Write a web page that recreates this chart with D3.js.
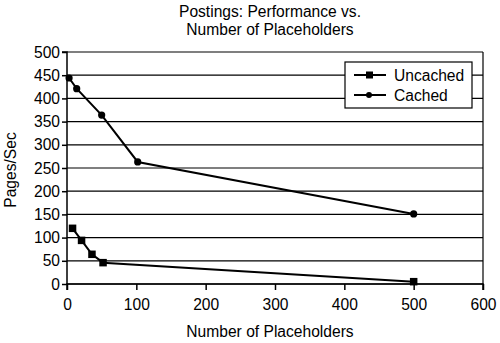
<!DOCTYPE html>
<html><head><meta charset="utf-8">
<script src="https://cdn.jsdelivr.net/npm/d3@7"></script>
<style>body{margin:0;background:#fff}svg{display:block}text{font-family:"Liberation Sans",Arial,sans-serif;fill:#000}</style>
</head><body><svg id="c" width="500" height="343"></svg>
<script>
const uncachedX = [8, 21, 36, 52, 500];
const uncachedY = [120, 94, 64, 46, 5];
const cachedX = [3, 14, 50, 102, 500];
const cachedY = [444, 421, 364, 263, 151];
const xTicks = [0, 100, 200, 300, 400, 500, 600];
const yTicks = [0, 50, 100, 150, 200, 250, 300, 350, 400, 450, 500];
const seriesNames = ["Uncached", "Cached"];

const svg = d3.select("#c");
const x = d3.scaleLinear().domain([0, 600]).range([67, 483]);
const y = d3.scaleLinear().domain([0, 500]).range([284, 52]);

// gridlines
svg.append("g").selectAll("line").data(yTicks).join("line")
  .attr("x1", x(0)).attr("x2", x(600)).attr("y1", d => y(d)).attr("y2", d => y(d))
  .attr("stroke", "#000").attr("stroke-width", 1.2);
// right border
svg.append("line").attr("x1", x(600)).attr("x2", x(600)).attr("y1", y(0)).attr("y2", y(500))
  .attr("stroke", "#000").attr("stroke-width", 1.2);

const fs = "15.6px";
const ya = svg.append("g").attr("transform", `translate(${x(0)},0)`)
  .call(d3.axisLeft(y).tickValues(yTicks).tickSize(5).tickPadding(2));
const xa = svg.append("g").attr("transform", `translate(0,${y(0)})`)
  .call(d3.axisBottom(x).tickValues(xTicks).tickSize(6).tickPadding(9));
[ya, xa].forEach(a => {
  a.selectAll("path,line").attr("stroke", "#000").attr("stroke-width", 1.5);
  a.selectAll("text").style("font-size", fs).style("font-family", '"Liberation Sans",Arial,sans-serif').attr("fill", "#000");
});
ya.select(".domain").attr("d", `M-5,${y(500)}H0V${y(0)}`);
xa.select(".domain").attr("d", `M${x(0)},6V0H${x(600)}V6`);

const line = d3.line().x(d => x(d[0])).y(d => y(d[1]));
const uData = uncachedX.map((v, i) => [v, uncachedY[i]]);
const cData = cachedX.map((v, i) => [v, cachedY[i]]);
svg.append("path").datum(uData).attr("d", line).attr("fill", "none").attr("stroke", "#000").attr("stroke-width", 2);
svg.append("path").datum(cData).attr("d", line).attr("fill", "none").attr("stroke", "#000").attr("stroke-width", 2);
svg.append("g").selectAll("rect").data(uData).join("rect")
  .attr("x", d => x(d[0]) - 3.75).attr("y", d => y(d[1]) - 3.75).attr("width", 7.5).attr("height", 7.5).attr("fill", "#000");
svg.append("g").selectAll("circle").data(cData).join("circle")
  .attr("cx", d => x(d[0])).attr("cy", d => y(d[1])).attr("r", 3.6).attr("fill", "#000");

// legend
const lg = svg.append("g");
lg.append("rect").attr("x", 345).attr("y", 62).attr("width", 127).attr("height", 46)
  .attr("fill", "#fff").attr("stroke", "#000").attr("stroke-width", 1.2);
seriesNames.forEach((n, i) => {
  const ly = 75 + i * 20;
  lg.append("line").attr("x1", 354).attr("x2", 386).attr("y1", ly).attr("y2", ly).attr("stroke", "#000").attr("stroke-width", 2);
  if (i === 0) lg.append("rect").attr("x", 366).attr("y", ly - 3.5).attr("width", 7).attr("height", 7).attr("fill", "#000");
  else lg.append("circle").attr("cx", 369).attr("cy", ly).attr("r", 3).attr("fill", "#000");
  lg.append("text").attr("x", 394).attr("y", ly + 6).style("font-size", fs).text(n);
});

// titles
svg.append("text").attr("x", 270).attr("y", 17).attr("text-anchor", "middle").style("font-size", fs).text("Postings: Performance vs.");
svg.append("text").attr("x", 270).attr("y", 35).attr("text-anchor", "middle").style("font-size", fs).text("Number of Placeholders");
svg.append("text").attr("x", 270).attr("y", 337).attr("text-anchor", "middle").style("font-size", fs).text("Number of Placeholders");
svg.append("text").attr("transform", "translate(16,170) rotate(-90)").attr("text-anchor", "middle").style("font-size", fs).text("Pages/Sec");
</script></body></html>
